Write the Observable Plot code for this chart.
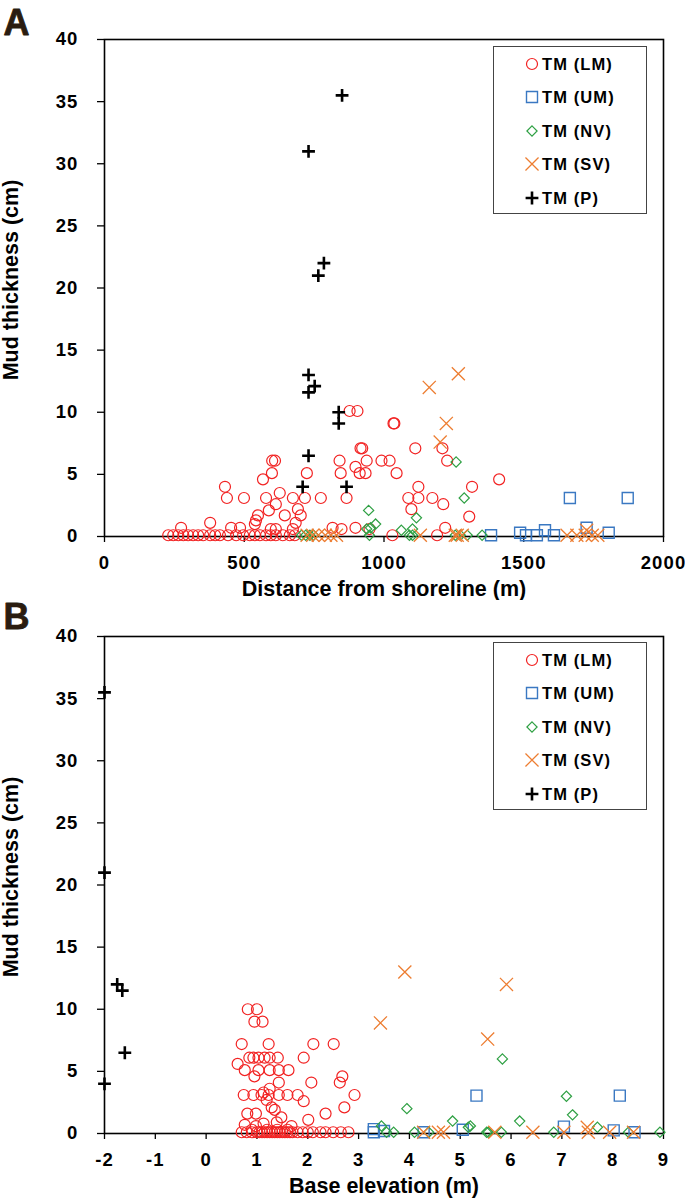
<!DOCTYPE html>
<html><head><meta charset="utf-8">
<script src="https://cdn.jsdelivr.net/npm/d3@7"></script>
<script src="https://cdn.jsdelivr.net/npm/@observablehq/plot@0.6"></script>
<style>
body{margin:0;background:#fff;font-family:"Liberation Sans",Arial,sans-serif;}
#wrap{position:relative;width:685px;height:1202px;overflow:hidden;}
.pan{position:absolute;left:0;width:685px;}
.pan g[aria-label="x-axis tick label"] text, .pan g[aria-label="y-axis tick label"] text{letter-spacing:1.1px;}
.pan g[aria-label="x-title"] text{letter-spacing:1.3px;}
.pan g[aria-label="y-title"] text{letter-spacing:0.8px;}
.legend{position:absolute;left:493px;width:154px;height:168px;border:1px solid #444;background:#fff;box-sizing:border-box;}
.legend .row{position:absolute;left:30px;height:22px;display:flex;align-items:center;font-weight:bold;font-size:16.5px;letter-spacing:1.1px;color:#000;white-space:nowrap;}
.legend svg{margin-right:2px;overflow:visible;}
</style></head>
<body><div id="wrap">
<div id="pa" class="pan" style="top:0;height:600px"></div>
<div id="pb" class="pan" style="top:600px;height:602px"></div>
<div id="la" class="legend" style="top:46px"></div>
<div id="lb" class="legend" style="top:642px"></div>
</div>
<script>
// ---- data ----
const seriesNames = ["TM (LM)", "TM (UM)", "TM (NV)", "TM (SV)", "TM (P)"];
const yTicks = [0, 5, 10, 15, 20, 25, 30, 35, 40];
const xTicksA = [0, 500, 1000, 1500, 2000];
const xTicksB = [-2, -1, 0, 1, 2, 3, 4, 5, 6, 7, 8, 9];

// Panel A: distance from shoreline (m), mud thickness (cm)
const lmA = [
  [228,0.1],[246,0.1],[264,0.1],[282,0.1],[299,0.1],[317,0.1],[335,0.1],[353,0.1],[378,0.1],[396,0.1],
  [413,0.1],[442,0.1],[471,0.1],[496,0.1],[520,0.1],[538,0.1],[556,0.1],[578,0.1],[595,0.1],[613,0.1],
  [638,0.1],[663,0.1],[681,0.1],[1030,0.1],[1190,0.1],
  [274,0.7],[378,1.1],[431,4.0],[438,3.1],[499,3.1],[453,0.7],[485,0.7],[538,1.0],[542,1.3],[549,1.7],
  [567,4.6],[578,3.1],[588,2.1],[595,0.6],[599,5.1],[600,6.1],[610,6.1],[613,0.6],[613,2.6],[627,3.5],
  [645,1.7],[674,3.1],[674,0.6],[684,1.1],[692,2.2],[702,1.7],[717,3.1],[724,5.1],[774,3.1],[816,0.7],
  [841,6.1],[845,5.1],[848,0.6],[866,3.1],[877,10.1],[905,10.1],[898,0.7],[898,5.6],[913,5.1],[916,7.1],
  [922,7.1],[934,5.1],[938,6.1],[948,0.6],[991,6.1],[1020,6.1],[1034,9.1],[1037,9.1],[1045,5.1],[1087,3.1],
  [1098,2.2],[1112,7.1],[1123,4.0],[1123,3.1],[1173,3.1],[1209,7.1],[1212,2.6],[1219,0.7],[1226,6.1],
  [1305,1.6],[1315,4.0],[1412,4.6]
];
const umA = [[1383,0.1],[1487,0.3],[1508,0.1],[1547,0.1],[1576,0.5],[1608,0.1],[1665,3.1],[1725,0.7],[1804,0.3],[1872,3.1]];
const nvA = [[705,0.1],[720,0.1],[735,0.1],[748,0.1],[945,2.1],[970,1.0],[952,0.7],[938,0.6],[948,0.1],[1062,0.5],
  [1102,0.6],[1091,0.1],[1102,0.1],[1116,1.5],[1258,6.0],[1287,3.1],[1255,0.1],[1273,0.1],[1298,0.1],[1351,0.1]];
const svA = [[1162,12],[1266,13.1],[1223,9.1],[1201,7.6],[725,0.1],[745,0.1],[765,0.1],[790,0.1],[810,0.1],[830,0.1],
  [1130,0.1],[1255,0.1],[1262,0.1],[1280,0.1],[1655,0.1],[1690,0.1],[1720,0.1],[1725,0.5],[1745,0.1],[1765,0.1]];
const pA = [[850,35.5],[730,31],[785,22],[765,21],[730,13],[752,12.1],[730,11.6],[838,10],[838,9.1],[730,6.5],[709,4.0],[866,4.0]];

// Panel B: base elevation (m), mud thickness (cm)
const lmB = [
  [0.7,0.1],[0.8,0.1],[0.9,0.1],[1.0,0.1],[1.05,0.1],[1.1,0.1],[1.15,0.1],[1.2,0.1],[1.25,0.1],[1.3,0.1],
  [1.35,0.1],[1.4,0.1],[1.45,0.1],[1.5,0.1],[1.55,0.1],[1.6,0.1],[1.65,0.1],[1.7,0.1],[1.8,0.1],[1.9,0.1],
  [2.0,0.1],[2.1,0.1],[2.25,0.1],[2.35,0.1],[2.5,0.1],[2.65,0.1],[2.8,0.1],
  [0.9,0.3],[1.2,0.3],[1.4,0.3],[1.6,0.3],
  [0.82,10],[1.0,10],[0.95,9],[1.11,9],[0.70,7.2],[1.23,7.2],[2.11,7.2],[2.51,7.2],
  [0.85,6.1],[0.93,6.1],[1.03,6.1],[1.15,6.1],[1.25,6.1],[1.41,6.1],[1.92,6.1],[0.62,5.6],
  [0.76,5.1],[1.03,5.1],[1.25,5.1],[1.43,5.1],[1.62,5.1],[0.95,4.6],[2.68,4.6],[2.63,4.1],[1.43,4.1],[2.07,4.1],
  [1.25,3.6],[0.74,3.1],[0.93,3.1],[1.09,3.1],[1.23,3.1],[1.43,3.1],[1.60,3.1],[1.80,3.1],[1.13,3.3],[2.92,3.1],
  [1.92,2.6],[1.19,2.7],[1.29,2.1],[2.72,2.1],[0.81,1.6],[0.98,1.6],[1.35,1.9],[2.35,1.6],[2.01,1.1],[1.48,1.3],
  [1.39,0.9],[0.76,0.7],[1.13,0.8],[0.98,0.6],[1.68,0.6]
];
const umB = [[3.3,0.1],[3.3,0.35],[3.5,0.2],[4.28,0.1],[5.05,0.3],[5.32,3.05],[7.04,0.55],[8.02,0.25],[8.14,3.05],[8.43,0.1]];
const nvB = [[3.45,0.6],[3.55,0.1],[3.69,0.1],[3.95,2.0],[4.1,0.1],[4.38,0.1],[4.85,1.0],[5.16,0.5],[5.2,0.6],[5.52,0.1],
  [5.55,0.1],[5.81,0.1],[5.83,6.0],[6.17,1.0],[6.84,0.1],[7.09,3.0],[7.21,1.5],[7.7,0.5],[8.31,0.1],[8.93,0.1]];
const svB = [[3.91,13],[5.91,12],[3.43,8.9],[5.54,7.6],[4.28,0.1],[4.57,0.1],[4.67,0.1],[5.68,0.1],[6.43,0.1],[7.04,0.1],
  [7.5,0.5],[7.52,0.1],[7.94,0.1],[8.41,0.1]];
const pB = [[-2,35.5],[-2,21],[-1.75,12],[-1.65,11.5],[-1.6,6.5],[-2,4]];

// ---- styles ----
const styles = [
  {symbol: "circle", r: 5.5, stroke: "#f22222", strokeWidth: 1.2},
  {symbol: "square2", r: 7, stroke: "#3a78c2", strokeWidth: 1.4},
  {symbol: "diamond2", r: 4.6, stroke: "#2ea043", strokeWidth: 1.2},
  {symbol: "times", r: 6, stroke: "#ed7d31", strokeWidth: 1.3},
  {symbol: "plus", r: 4.2, stroke: "#000", strokeWidth: 2.6}
];
const FONT = "'Liberation Sans', Arial, sans-serif";

function panel({sets, xDomain, xTicks, xLabel, letter, letterDy, height, marginTop, marginBottom}) {
  const dots = sets.map((data, i) => Plot.dot(data, {x: d => d[0], y: d => d[1], fill: "none", ...styles[i]}));
  return Plot.plot({
    width: 685, height, marginLeft: 104, marginRight: 22, marginTop, marginBottom,
    style: {fontFamily: FONT, background: "white", overflow: "visible", color: "black"},
    x: {domain: xDomain},
    y: {domain: [0, 40]},
    marks: [
      Plot.axisY({ticks: yTicks, tickSize: 7, tickPadding: 19, fontSize: 18.5, fontWeight: "bold", label: null, strokeWidth: 1.3, tickFormat: d => String(d)}),
      Plot.axisX({ticks: xTicks, tickSize: 6, tickPadding: 13, fontSize: 18.5, fontWeight: "bold", label: null, strokeWidth: 1.3, tickFormat: d => String(d)}),
      Plot.frame({stroke: "black", strokeWidth: 1.6}),
      ...dots,
      Plot.text([xLabel], {text: d => d, ariaLabel: "x-title", frameAnchor: "bottom", dy: 59, fontSize: 21.5, fontWeight: "bold", fill: "black"}),
      Plot.text(["Mud thickness (cm)"], {text: d => d, ariaLabel: "y-title", frameAnchor: "left", textAnchor: "middle", dx: -93, dy: -8, rotate: -90, fontSize: 21.5, fontWeight: "bold", fill: "black"}),
      Plot.text([letter], {text: d => d, frameAnchor: "top-left", textAnchor: "start", lineAnchor: "bottom", dx: -101, dy: letterDy, fontSize: 36, fontWeight: "bold", fill: "#2a1c10", stroke: "#2a1c10", strokeWidth: 0.8})
    ]
  });
}

document.getElementById("pa").appendChild(panel({
  sets: [lmA, umA, nvA, svA, pA], xDomain: [0, 2000], xTicks: xTicksA,
  xLabel: "Distance from shoreline (m)", letter: "A", letterDy: -5, height: 600, marginTop: 39, marginBottom: 64
}));
document.getElementById("pb").appendChild(panel({
  sets: [lmB, umB, nvB, svB, pB], xDomain: [-2, 9], xTicks: xTicksB,
  xLabel: "Base elevation (m)", letter: "B", letterDy: -8, height: 602, marginTop: 36, marginBottom: 69
}));

// legends
const rowTops = [6, 39, 73, 106, 140];
function legend(el) {
  seriesNames.forEach((name, i) => {
    const st = styles[i];
    const row = document.createElement("div");
    row.className = "row";
    row.style.top = rowTops[i] + "px";
    const size = Math.PI * st.r * st.r;
    const sym = {circle: d3.symbolCircle, square2: d3.symbolSquare2, diamond2: d3.symbolDiamond2, times: d3.symbolTimes, plus: d3.symbolPlus}[st.symbol];
    const svg = d3.create("svg").attr("width", 16).attr("height", 16).attr("viewBox", "-8 -8 16 16");
    svg.append("path").attr("d", d3.symbol(sym, size)()).attr("fill", "none")
      .attr("stroke", st.stroke).attr("stroke-width", st.strokeWidth);
    row.appendChild(svg.node());
    const t = document.createElement("span");
    t.textContent = name;
    row.appendChild(t);
    el.appendChild(row);
  });
}
legend(document.getElementById("la"));
legend(document.getElementById("lb"));
</script>
</body></html>
